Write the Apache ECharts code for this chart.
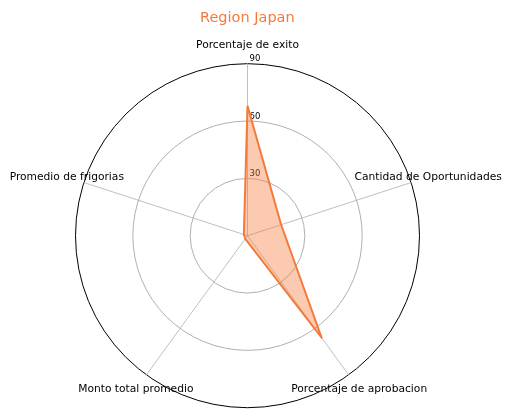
<!DOCTYPE html>
<html><head><meta charset="utf-8">
<script src="https://cdn.jsdelivr.net/npm/echarts@6/dist/echarts.min.js"></script>
<style>html,body{margin:0;padding:0;background:#fff}#c{width:512px;height:416px}</style>
</head><body><div id="c"></div>
<script>
const categories = ['Porcentaje de exito', 'Promedio de frigorias', 'Monto total promedio', 'Porcentaje de aprobacion', 'Cantidad de Oportunidades'];
const values = [68, 2, 2, 66, 18.5];
const tickValues = [30, 60, 90];
const maxValue = 90;
const titleText = 'Region Japan';

const orange = '#F47A3A';
const chart = echarts.init(document.getElementById('c'), null, {renderer: 'canvas'});
chart.setOption({
  backgroundColor: '#fff',
  animation: false,
  title: {text: titleText, left: 195, top: 6, textStyle: {color: orange, fontSize: 14.5, fontWeight: 'normal', fontFamily: 'DejaVu Sans'}},
  radar: {
    center: [247.5, 235.7],
    radius: 172,
    shape: 'circle',
    startAngle: 90,
    splitNumber: tickValues.length,
    nameGap: 18,
    axisName: {color: '#000', fontSize: 10.7, fontFamily: 'DejaVu Sans', align: 'center', verticalAlign: 'middle'},
    indicator: categories.map((c, i) => i === 0 ? {name: c, max: maxValue, min: 0,
      axisLabel: {show: true, color: '#000', fontSize: 8.5, fontFamily: 'DejaVu Sans', align: 'left', verticalAlign: 'bottom', margin: -2, showMinLabel: false, formatter: v => v === 0 ? '' : String(v)}} : {name: c, max: maxValue, min: 0}),
    splitLine: {lineStyle: {color: ['#b0b0b0', '#b0b0b0', '#b0b0b0', '#000000'], width: 1}},
    splitArea: {show: false},
    axisLine: {lineStyle: {color: '#b0b0b0', width: 0.8}},
    axisTick: {show: false},
    axisLabel: {show: false}
  },
  series: [{
    type: 'radar',
    symbol: 'none',
    lineStyle: {color: orange, width: 2},
    areaStyle: {color: orange, opacity: 0.4},
    data: [{value: values, name: titleText}]
  }]
});
</script></body></html>
